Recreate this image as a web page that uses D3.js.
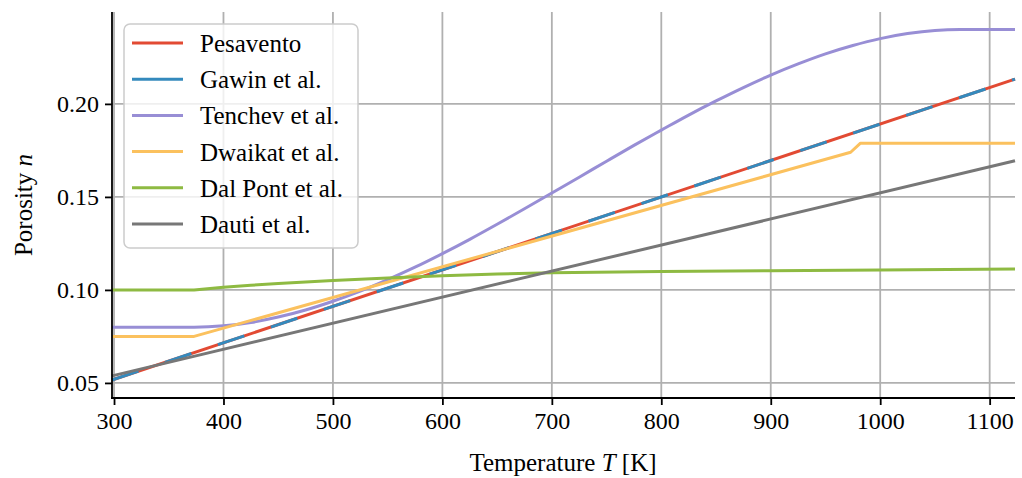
<!DOCTYPE html>
<html>
<head>
<meta charset="utf-8">
<script src="https://cdn.jsdelivr.net/npm/d3@7"></script>
<style>
  html, body { margin: 0; padding: 0; background: #fff; }
  svg { display: block; }
  text { font-family: "Liberation Serif", "DejaVu Serif", serif; fill: #000; }
</style>
</head>
<body>
<svg id="chart" width="1022" height="478"></svg>
<script>
// ---- data ----
const seriesNames = ["Pesavento", "Gawin et al.", "Tenchev et al.", "Dwaikat et al.", "Dal Pont et al.", "Dauti et al."];
const seriesColors = ["#E24A33", "#348ABD", "#988ED5", "#FBC15E", "#8EBA42", "#777777"];

const pesaventoT = [298.15, 1123.15];
const pesaventoN = [0.0516, 0.2133];

const gawinT = [298.15, 1123.15];
const gawinN = [0.0516, 0.2133];

const tenchevT = [298.15, 373.15, 400, 425, 450, 475, 500, 525, 550, 575, 600, 625, 650, 675, 700, 725, 750, 775, 800, 825, 850, 875, 900, 925, 950, 975, 1000, 1025, 1050, 1073.15, 1123.15];
const tenchevN = [0.0800, 0.0800, 0.0807, 0.0825, 0.0854, 0.0892, 0.0939, 0.0993, 0.1055, 0.1122, 0.1195, 0.1272, 0.1353, 0.1436, 0.1521, 0.1606, 0.1692, 0.1777, 0.1859, 0.1940, 0.2016, 0.2088, 0.2155, 0.2215, 0.2269, 0.2314, 0.2351, 0.2378, 0.2395, 0.2400, 0.2400];

const dwaikatT = [298.15, 373.15, 973, 982, 1123.15];
const dwaikatN = [0.0750, 0.0750, 0.1740, 0.1789, 0.1789];

const dalPontT = [298.15, 373.15, 400, 425, 450, 500, 550, 600, 650, 700, 800, 900, 1000, 1123.15];
const dalPontN = [0.1000, 0.1000, 0.1014, 0.1025, 0.1035, 0.1050, 0.1064, 0.1076, 0.1085, 0.1092, 0.1099, 0.1103, 0.1107, 0.1112];

const dautiT = [298.15, 1123.15];
const dautiN = [0.0538, 0.1694];

const xTicks = [300, 400, 500, 600, 700, 800, 900, 1000, 1100];
const yTicks = [0.05, 0.10, 0.15, 0.20];
const xDomain = [298.15, 1123.15];
const yDomain = [0.0419, 0.2494];

// ---- layout ----
const svg = d3.select("#chart");
const L = 112, R = 1015, T = 12, B = 398;
const x = d3.scaleLinear().domain(xDomain).range([L, R]);
const y = d3.scaleLinear().domain(yDomain).range([B, T]);

const series = [
  {T: pesaventoT, N: pesaventoN, curve: d3.curveLinear},
  {T: gawinT, N: gawinN, curve: d3.curveLinear, dash: "27.9,27.9"},
  {T: tenchevT, N: tenchevN, curve: d3.curveMonotoneX},
  {T: dwaikatT, N: dwaikatN, curve: d3.curveLinear},
  {T: dalPontT, N: dalPontN, curve: d3.curveLinear},
  {T: dautiT, N: dautiN, curve: d3.curveLinear}
];

// grid
const grid = svg.append("g");
grid.selectAll("line.gx").data(xTicks).join("line")
  .attr("x1", d => x(d)).attr("x2", d => x(d)).attr("y1", T).attr("y2", B)
  .attr("stroke", "#b0b0b0").attr("stroke-width", 1.8);
grid.selectAll("line.gy").data(yTicks).join("line")
  .attr("x1", L).attr("x2", R).attr("y1", d => y(d)).attr("y2", d => y(d))
  .attr("stroke", "#b0b0b0").attr("stroke-width", 1.8);

// lines
const lg = svg.append("g");
series.forEach((s, i) => {
  const pts = s.T.map((t, k) => [t, s.N[k]]);
  const line = d3.line().x(d => x(d[0])).y(d => y(d[1])).curve(s.curve);
  const p = lg.append("path").datum(pts)
    .attr("d", line).attr("fill", "none")
    .attr("stroke", seriesColors[i]).attr("stroke-width", 3)
    .attr("stroke-linejoin", "round");
  if (s.dash) p.attr("stroke-dasharray", s.dash);
});

// axes
const xAxis = d3.axisBottom(x).tickValues(xTicks).tickFormat(d3.format("d")).tickSize(7).tickSizeOuter(0).tickPadding(7);
const yAxis = d3.axisLeft(y).tickValues(yTicks).tickFormat(d3.format(".2f")).tickSize(7).tickSizeOuter(0).tickPadding(6);

const gx = svg.append("g").attr("transform", `translate(0,${B})`).call(xAxis);
const gy = svg.append("g").attr("transform", `translate(${L},0)`).call(yAxis);
[gx, gy].forEach(g => {
  g.attr("font-family", null).attr("font-size", null);
  g.select(".domain").attr("stroke", "#000").attr("stroke-width", 1.8);
  g.selectAll(".tick line").attr("stroke", "#000").attr("stroke-width", 1.8);
  g.selectAll(".tick text").style("font-family", "'Liberation Serif', serif").style("font-size", "24px").attr("fill", "#000");
});
gx.select(".domain").attr("d", `M${L - 1},0H${R}`);
gy.select(".domain").attr("d", `M0,${T}V${B}`);

// axis labels
const xl = svg.append("text").attr("x", 563).attr("y", 471).attr("text-anchor", "middle").style("font-size", "25px");
xl.append("tspan").text("Temperature ");
xl.append("tspan").attr("font-style", "italic").text("T");
xl.append("tspan").text(" [K]");

const yl = svg.append("text").attr("transform", "translate(32,205) rotate(-90)").attr("text-anchor", "middle").style("font-size", "25px");
yl.append("tspan").text("Porosity ");
yl.append("tspan").attr("font-style", "italic").text("n");

// legend
const leg = svg.append("g");
leg.append("rect").attr("x", 124).attr("y", 24).attr("width", 234).attr("height", 224)
  .attr("rx", 6).attr("ry", 6).attr("fill", "#fff").attr("fill-opacity", 0.8)
  .attr("stroke", "#cccccc").attr("stroke-width", 1.5);
const legY = d3.scaleLinear().domain([0, seriesNames.length - 1]).range([43, 224]);
seriesNames.forEach((name, i) => {
  leg.append("line").attr("x1", 132).attr("x2", 183).attr("y1", legY(i)).attr("y2", legY(i))
    .attr("stroke", seriesColors[i]).attr("stroke-width", 3);
  leg.append("text").attr("x", 200).attr("y", legY(i) + 9).style("font-size", "25px").text(name);
});
</script>
</body>
</html>
